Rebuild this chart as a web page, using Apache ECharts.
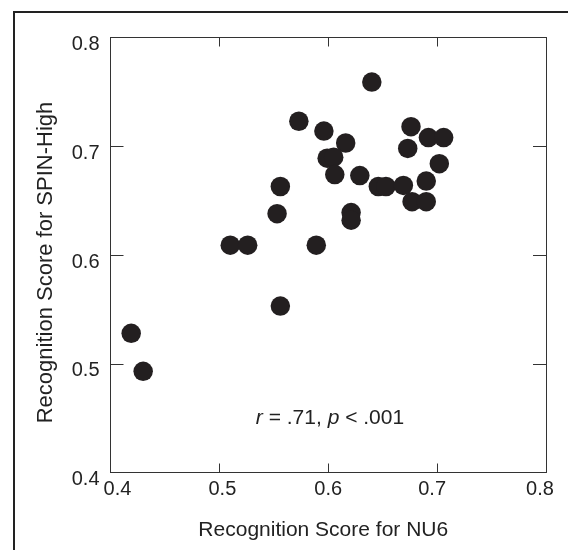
<!DOCTYPE html>
<html>
<head>
<meta charset="utf-8">
<script src="https://cdn.jsdelivr.net/npm/echarts@6/dist/echarts.min.js"></script>
<style>
html,body{margin:0;padding:0;background:#fff;}
#chart{width:568px;height:550px;}
</style>
</head>
<body>
<div id="chart"></div>
<script>
// Data
const nu6 = [0.640, 0.573, 0.596, 0.616, 0.676, 0.692, 0.706, 0.673, 0.702, 0.599, 0.605, 0.606, 0.629, 0.646, 0.653, 0.669, 0.677, 0.690, 0.690, 0.556, 0.553, 0.621, 0.621, 0.510, 0.526, 0.589, 0.556, 0.419, 0.430];
const spinHigh = [0.759, 0.723, 0.714, 0.703, 0.718, 0.708, 0.708, 0.698, 0.684, 0.689, 0.690, 0.674, 0.673, 0.663, 0.663, 0.664, 0.649, 0.668, 0.649, 0.663, 0.638, 0.639, 0.632, 0.609, 0.609, 0.609, 0.553, 0.528, 0.493];
const axisMin = 0.4, axisMax = 0.8, axisStep = 0.1;
const xTitle = 'Recognition Score for NU6';
const yTitle = 'Recognition Score for SPIN-High';
const statR = '.71', statP = '.001';

const FONT = 'Liberation Sans, Arial, Helvetica, sans-serif';
const INK = '#231f20';
const AX = '#333333';
const points = nu6.map((x, i) => [x, spinHigh[i]]);

// small horizontal nudges of the x tick labels, as in the original typesetting
const xLabelPad = [[0, 0, 0, 14], [0, 0, 0, 6], [0, 0, 0, 0], [0, 10, 0, 0], [0, 12, 0, 0]];
const xRich = {};
xLabelPad.forEach((p, i) => {
  xRich['l' + i] = {fontFamily: FONT, fontSize: 20, color: '#222', padding: p};
});

const chart = echarts.init(document.getElementById('chart'), null, {renderer: 'canvas'});
const baseAxis = {
  type: 'value', min: axisMin, max: axisMax, interval: axisStep,
  splitLine: {show: false},
  axisLine: {show: true, onZero: false, lineStyle: {color: AX, width: 1}},
};
chart.setOption({
  animation: false,
  backgroundColor: '#ffffff',
  grid: {left: 110.5, right: 22, top: 37.5, bottom: 77.5, containLabel: false},
  xAxis: [
    Object.assign({}, baseAxis, {
      position: 'bottom',
      axisTick: {show: true, inside: true, length: 9, lineStyle: {color: AX, width: 1}},
      axisLabel: {color: '#222', fontFamily: FONT, fontSize: 20, margin: 7,
        formatter: (v, i) => '{l' + Math.min(i, 4) + '|' + v.toFixed(1) + '}',
        rich: xRich},
      name: xTitle, nameLocation: 'middle', nameGap: 47,
      nameTextStyle: {color: '#222', fontFamily: FONT, fontSize: 21, padding: [0, 10, 0, 0]}
    }),
    Object.assign({}, baseAxis, {
      position: 'top',
      axisTick: {show: true, inside: true, length: 9, lineStyle: {color: AX, width: 1}},
      axisLabel: {show: false}
    })
  ],
  yAxis: [
    Object.assign({}, baseAxis, {
      position: 'left',
      axisTick: {show: true, inside: true, length: 13, lineStyle: {color: AX, width: 1}},
      axisLabel: {color: '#222', fontFamily: FONT, fontSize: 20, margin: 11,
        formatter: v => '{s|' + v.toFixed(1) + '}',
        rich: {s: {fontFamily: FONT, fontSize: 20, color: '#222', padding: [14, 0, 0, 0]}}},
      name: yTitle, nameLocation: 'middle', nameGap: 54,
      nameTextStyle: {color: '#222', fontFamily: FONT, fontSize: 22, padding: [0, 15, 0, 0]}
    }),
    Object.assign({}, baseAxis, {
      position: 'right',
      axisTick: {show: true, inside: true, length: 13, lineStyle: {color: AX, width: 1}},
      axisLabel: {show: false}
    })
  ],
  series: [{
    type: 'scatter',
    xAxisIndex: 0, yAxisIndex: 0,
    symbol: 'circle',
    symbolSize: 19.5,
    itemStyle: {color: INK, opacity: 1},
    data: points
  }],
  graphic: [
    {
      type: 'rect', silent: true, z: 100,
      shape: {x: 14, y: 12, width: 700, height: 700},
      style: {fill: null, stroke: '#222', lineWidth: 2}
    },
    {
      type: 'text', silent: true, z: 100,
      x: 330, y: 418,
      style: {
        text: '{n|}{i|r}{n| = ' + statR + ', }{i|p}{n| < ' + statP + '}',
        align: 'center', verticalAlign: 'middle',
        fontFamily: FONT, fontSize: 21, fill: '#222',
        rich: {
          i: {fontStyle: 'italic', fontFamily: FONT, fontSize: 21, fill: '#222'},
          n: {fontFamily: FONT, fontSize: 21, fill: '#222'}
        }
      }
    }
  ]
});
</script>
</body>
</html>
